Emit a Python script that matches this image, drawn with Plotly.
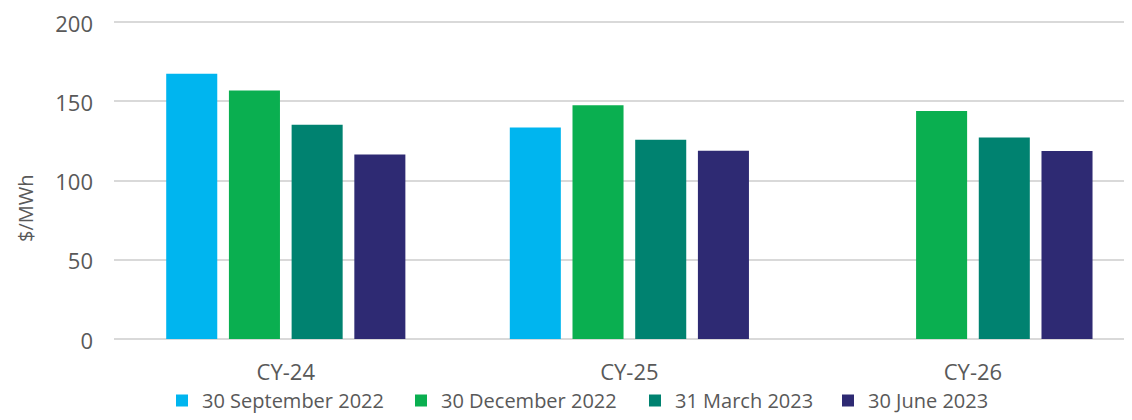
import plotly.graph_objects as go

categories = ["CY-24", "CY-25", "CY-26"]
series_names = ["30 September 2022", "30 December 2022", "31 March 2023", "30 June 2023"]
sep_2022 = [167.5, 133.5, None]
dec_2022 = [156.8, 147.6, 144.0]
mar_2023 = [135.2, 125.8, 127.2]
jun_2023 = [116.5, 118.9, 118.7]
colors = ["#00B5EF", "#0AAF50", "#008270", "#2E2A73"]
y_ticks = [0, 50, 100, 150, 200]
legend_left_px = [177, 416, 650, 843]  # square left edges in the reference (page px)

OFF = 8  # default body margin of the html page
W, H = 1132 - OFF, 420 - OFF
ML, MR, MT, MB = 106, 1, 11, 81
txt = "#595959"
legend_ids = ["legend", "legend2", "legend3", "legend4"]
pw, ph = W - ML - MR, H - MT - MB

fig = go.Figure()
for name, vals, col, lid in zip(series_names, [sep_2022, dec_2022, mar_2023, jun_2023], colors, legend_ids):
    fig.add_trace(go.Bar(x=categories, y=vals, name=name, legend=lid,
                         marker=dict(color=col, line=dict(width=0))))

legend_layout = {}
for lid, px in zip(legend_ids, legend_left_px):
    legend_layout[lid] = dict(
        orientation="h", xref="container", yref="container",
        x=(px - OFF - 15) / W, xanchor="left", y=0, yanchor="bottom",
        font=dict(size=20, color=txt), bgcolor="rgba(0,0,0,0)", itemwidth=30,
    )

fig.update_layout(
    width=W, height=H,
    margin=dict(l=ML, r=MR, t=MT, b=MB),
    paper_bgcolor="white", plot_bgcolor="white",
    font=dict(family="Open Sans", color=txt, size=20),
    barmode="group", bargap=0.27, bargroupgap=0.186,
    showlegend=True,
    xaxis=dict(range=[-0.5, 2.46], showgrid=False, showline=False, zeroline=False,
               ticks="", automargin=False, ticklabelstandoff=18,
               tickfont=dict(size=22, color=txt)),
    yaxis=dict(range=[0, 202], tickvals=y_ticks, showgrid=True, gridcolor="#D9D9D9",
               gridwidth=1.5, zeroline=True, zerolinecolor="#D9D9D9", zerolinewidth=1.5,
               showline=False, ticks="", ticklabelstandoff=20, automargin=False,
               ticklabeloverflow="allow", ticklabelshift=2,
               tickfont=dict(size=22, color=txt)),
    annotations=[dict(text="$/MWh", xref="paper", yref="paper",
                      x=(25 - OFF - ML) / pw, y=(H - MB - (208 - OFF)) / ph,
                      xanchor="center", yanchor="middle",
                      textangle=-90, showarrow=False, font=dict(size=20, color=txt))],
    **legend_layout,
)
fig.write_html("out.html")
